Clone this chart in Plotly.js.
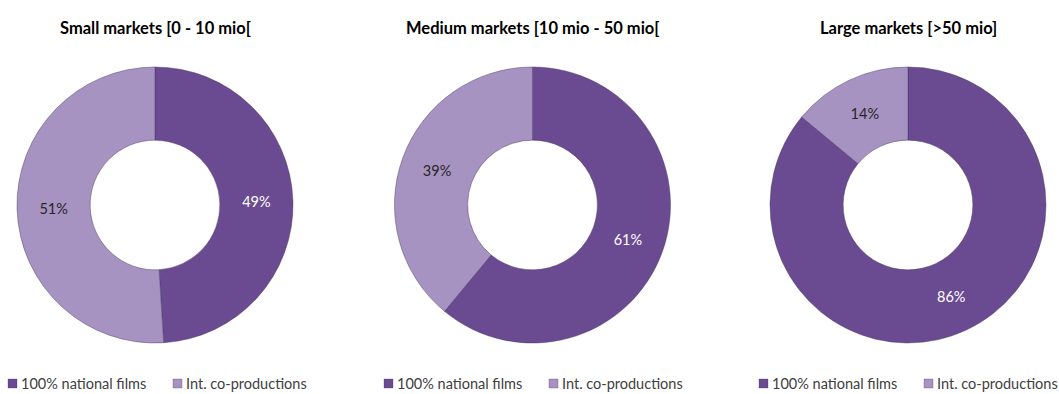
<!DOCTYPE html>
<html>
<head>
<meta charset="utf-8">
<script src="https://cdn.plot.ly/plotly-3.0.1.min.js"></script>
<style>
  html, body { margin: 0; padding: 0; background: #ffffff; }
  #chart { width: 1059px; height: 394px; }
</style>
</head>
<body>
<div id="chart"></div>
<script>
// Share of films by production type, per market size
const marketTitles = ['Small markets [0 - 10 mio[', 'Medium markets [10 mio - 50 mio[', 'Large markets [>50 mio]'];
const filmTypes = ['100% national films', 'Int. co-productions'];
const nationalShare = [49, 61, 86];
const coproductionShare = [51, 39, 14];

const sliceColors = ['#6a4b92', '#a793c1'];
const labelColors = ['#ffffff', '#262626'];

const W = 1059, H = 394;
const centersX = [155, 532.5, 908];   // donut centres (px)
const centerY = 205;
const radius = 138;
const FONT = 'Lato, "Open Sans", sans-serif';

const traces = [];
const annotations = [];
const shapes = [];

marketTitles.forEach((title, i) => {
  const cx = centersX[i];
  traces.push({
    type: 'pie',
    labels: filmTypes,
    values: [nationalShare[i], coproductionShare[i]],
    hole: 0.47,
    sort: false,
    direction: 'clockwise',
    rotation: 0,
    showlegend: false,
    texttemplate: '%{value}%',
    textposition: 'inside',
    insidetextorientation: 'horizontal',
    textfont: { family: FONT, size: 14.5, color: labelColors },
    marker: { colors: sliceColors, line: { color: 'rgba(70,50,95,0.45)', width: 1 } },
    hoverinfo: 'label+percent',
    domain: {
      x: [(cx - radius) / W, (cx + radius) / W],
      y: [1 - (centerY + radius) / H, 1 - (centerY - radius) / H]
    }
  });

  // panel title
  annotations.push({
    text: '<b>' + title + '</b>',
    xref: 'paper', yref: 'paper',
    x: cx / W, y: 1 - 28 / H,
    xanchor: 'center', yanchor: 'middle',
    showarrow: false,
    font: { family: FONT, size: 16.5, color: '#000000' }
  });

  // legend row under each donut
  const legendLeft = [8, 384, 759][i];
  const itemOffsets = [0, 165];
  filmTypes.forEach((name, k) => {
    const x0 = legendLeft + itemOffsets[k];
    shapes.push({
      type: 'rect', xref: 'paper', yref: 'paper',
      x0: x0 / W, x1: (x0 + 9) / W,
      y0: 1 - 388 / H, y1: 1 - 379 / H,
      fillcolor: sliceColors[k],
      line: { color: 'rgba(70,50,95,0.6)', width: 0.5 }
    });
    annotations.push({
      text: name,
      xref: 'paper', yref: 'paper',
      x: (x0 + 11) / W, y: 1 - 383.5 / H,
      xanchor: 'left', yanchor: 'middle',
      showarrow: false,
      font: { family: FONT, size: 14.5, color: '#404040' }
    });
  });
});

const layout = {
  width: W, height: H,
  margin: { l: 0, r: 0, t: 0, b: 0 },
  paper_bgcolor: '#ffffff',
  plot_bgcolor: '#ffffff',
  showlegend: false,
  annotations: annotations,
  shapes: shapes
};

Plotly.newPlot('chart', traces, layout, { displayModeBar: false, staticPlot: true });
</script>
</body>
</html>
